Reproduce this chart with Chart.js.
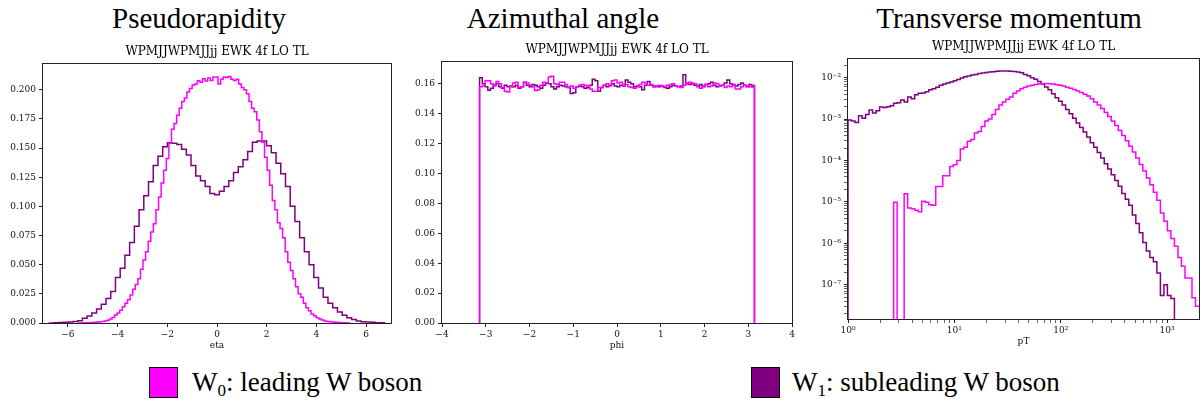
<!DOCTYPE html>
<html>
<head>
<meta charset="utf-8">
<script src="https://cdn.jsdelivr.net/npm/chart.js@4.4.1/dist/chart.umd.min.js"></script>
<style>
  body { margin: 0; width: 1200px; height: 405px; background: #fff; position: relative; overflow: hidden; }
  canvas { position: absolute; }
  .big { position: absolute; top: 4px; font-family: 'Liberation Serif', serif; font-size: 29px; line-height: 29px;
         transform: translateX(-50%); white-space: nowrap; color: #000; }
  .leg { position: absolute; top: 369px; font-family: 'Liberation Serif', serif; font-size: 27px; line-height: 27px;
         white-space: nowrap; color: #000; }
  .leg sub { font-size: 17px; vertical-align: -5px; line-height: 0; }
  .box { position: absolute; top: 367px; width: 27px; height: 29px; border: 1px solid #000; }
</style>
</head>
<body>
<div class="big" style="left:199px">Pseudorapidity</div>
<div class="big" style="left:563px">Azimuthal angle</div>
<div class="big" style="left:1009px">Transverse momentum</div>

<canvas id="c-eta" width="400" height="316" style="left:0;top:40px"></canvas>
<canvas id="c-phi" width="400" height="318" style="left:400px;top:38px"></canvas>
<canvas id="c-pt" width="400" height="317" style="left:800px;top:35px"></canvas>

<div class="box" style="left:149px;background:#ff00ff"></div>
<div class="leg" style="left:192px">W<sub>0</sub>: leading W boson</div>
<div class="box" style="left:751px;background:#800080"></div>
<div class="leg" style="left:792px">W<sub>1</sub>: subleading W boson</div>

<script>
// ---- datos: pseudorapidez (eta) ----
const etaTicks = [-6, -4, -2, 0, 2, 4, 6];
const etaLeadStart = -5.576;   // primer borde de bin, W0
const etaLeadWidth = 0.104;
const etaLead = [
    0.0001, 0.0001, 0.0002, 0.0002, 0.0003, 0.0004, 0.0006, 0.0008, 0.0010, 0.0013,
    0.0017, 0.0024, 0.0035, 0.0048, 0.0068, 0.0085, 0.011, 0.014, 0.017, 0.020,
    0.024, 0.029, 0.033, 0.038, 0.046, 0.054, 0.061, 0.070, 0.078, 0.085,
    0.097, 0.108, 0.120, 0.131, 0.141, 0.154, 0.166, 0.171, 0.178, 0.184,
    0.190, 0.193, 0.198, 0.201, 0.204, 0.205, 0.2077, 0.2065, 0.2094, 0.2074,
    0.210, 0.208, 0.211, 0.211, 0.205, 0.209, 0.211, 0.2105, 0.2114, 0.209,
    0.208, 0.209, 0.205, 0.202, 0.200, 0.1966, 0.190, 0.184, 0.181, 0.174,
    0.164, 0.155, 0.142, 0.131, 0.118, 0.105, 0.097, 0.086, 0.081, 0.073,
    0.061, 0.052, 0.045, 0.038, 0.031, 0.025, 0.022, 0.017, 0.013, 0.0105,
    0.0078, 0.0062, 0.0046, 0.0034, 0.0025, 0.0017, 0.0013, 0.0010, 0.0008, 0.0006,
    0.0005, 0.0004, 0.0003, 0.0002, 0.0001
];
const etaSubStart = -6.745;    // primer borde de bin, W1
const etaSubWidth = 0.19;
const etaSub = [
    0.0001, 0.0002, 0.0004, 0.0006, 0.0009, 0.0013, 0.002, 0.004, 0.006, 0.0086,
    0.012, 0.016, 0.021, 0.027, 0.039, 0.047, 0.058, 0.069, 0.083, 0.097,
    0.109, 0.121, 0.135, 0.143, 0.151, 0.1546, 0.154, 0.153, 0.149, 0.144,
    0.135, 0.126, 0.122, 0.117, 0.111, 0.110, 0.113, 0.117, 0.122, 0.129,
    0.134, 0.140, 0.147, 0.155, 0.156, 0.156, 0.152, 0.146, 0.137, 0.128,
    0.117, 0.100, 0.087, 0.073, 0.061, 0.050, 0.039, 0.030, 0.022, 0.017,
    0.013, 0.0094, 0.0066, 0.0046, 0.0029, 0.0017, 0.0011, 0.0009, 0.0006, 0.0003,
    0.0002
];

// ---- datos: angulo azimutal (phi), 100 bins entre -pi y pi ----
const phiTicks = [-4, -3, -2, -1, 0, 1, 2, 3, 4];
const phiBins = 100;
const phiLead = [
    0.158, 0.1585, 0.162, 0.162, 0.160, 0.1585, 0.1615, 0.160, 0.1575, 0.155,
    0.1545, 0.158, 0.1605, 0.161, 0.1575, 0.158, 0.161, 0.1605, 0.159, 0.158,
    0.1555, 0.156, 0.159, 0.161, 0.1605, 0.1645, 0.165, 0.160, 0.1595, 0.161,
    0.161, 0.1595, 0.1575, 0.1585, 0.157, 0.158, 0.159, 0.1595, 0.159, 0.1585,
    0.1565, 0.155, 0.155, 0.1575, 0.1575, 0.159, 0.160, 0.1585, 0.162, 0.1625,
    0.1605, 0.161, 0.159, 0.1595, 0.158, 0.1575, 0.157, 0.158, 0.1595, 0.161,
    0.1605, 0.159, 0.1595, 0.1585, 0.158, 0.159, 0.1585, 0.158, 0.159, 0.1595,
    0.160, 0.1585, 0.158, 0.1575, 0.159, 0.1605, 0.161, 0.1605, 0.160, 0.158,
    0.157, 0.1585, 0.1595, 0.158, 0.1585, 0.1605, 0.160, 0.1585, 0.159, 0.1575,
    0.1585, 0.158, 0.1595, 0.1565, 0.1565, 0.158, 0.159, 0.1585, 0.158, 0.159
];
const phiSub = [
    0.164, 0.160, 0.158, 0.1557, 0.157, 0.159, 0.160, 0.158, 0.157, 0.159,
    0.158, 0.1585, 0.158, 0.159, 0.157, 0.158, 0.161, 0.159, 0.158, 0.1595,
    0.159, 0.158, 0.157, 0.159, 0.1605, 0.160, 0.158, 0.1565, 0.158, 0.159,
    0.1585, 0.158, 0.1575, 0.1535, 0.154, 0.158, 0.1585, 0.158, 0.157, 0.1575,
    0.159, 0.163, 0.162, 0.155, 0.1575, 0.159, 0.158, 0.159, 0.160, 0.1585,
    0.158, 0.159, 0.1585, 0.1625, 0.161, 0.160, 0.158, 0.1585, 0.158, 0.156,
    0.159, 0.1615, 0.159, 0.158, 0.1585, 0.158, 0.1585, 0.1575, 0.157, 0.158,
    0.159, 0.1585, 0.158, 0.1585, 0.166, 0.160, 0.1595, 0.160, 0.159, 0.1585,
    0.1595, 0.158, 0.1595, 0.160, 0.161, 0.159, 0.158, 0.1585, 0.159, 0.1605,
    0.1625, 0.160, 0.159, 0.1585, 0.1595, 0.1605, 0.159, 0.158, 0.1595, 0.158
];

// ---- datos: momento transverso (pT), bins logaritmicos de 0.033 decadas desde 1 ----
const ptLogStep = 0.033;
const ptLead = [
    0, 0, 0, 0, 0, 0, 0, 0, 0, 0,
    0, 0, 0, 9.8e-6, 0, 0, 1.58e-5, 7.1e-6, 6.8e-6, 6.3e-6,
    5.8e-6, 1.03e-5, 9.8e-6, 8.5e-6, 8.3e-6, 2.36e-5, 2.36e-5, 4.3e-5, 4.3e-5, 7.2e-5,
    7.9e-5, 1.0e-4, 1.9e-4, 2.1e-4, 2.9e-4, 3.2e-4, 4.6e-4, 5.0e-4, 6.6e-4, 9.0e-4,
    1.0e-3, 1.3e-3, 1.7e-3, 2.2e-3, 2.6e-3, 3.0e-3, 3.4e-3, 4.2e-3, 4.8e-3, 5.4e-3,
    5.9e-3, 6.3e-3, 6.6e-3, 6.9e-3, 7.1e-3, 7.1e-3, 7.2e-3, 7.1e-3, 7.0e-3, 6.8e-3,
    6.6e-3, 6.3e-3, 5.9e-3, 5.6e-3, 5.2e-3, 4.8e-3, 4.4e-3, 4.0e-3, 3.6e-3, 3.1e-3,
    2.6e-3, 2.2e-3, 1.8e-3, 1.45e-3, 1.15e-3, 9.0e-4, 7.0e-4, 5.3e-4, 4.0e-4, 3.0e-4,
    2.2e-4, 1.6e-4, 1.15e-4, 8.0e-5, 5.6e-5, 3.8e-5, 2.6e-5, 1.7e-5, 1.1e-5, 5.4e-6,
    3.4e-6, 2.0e-6, 1.3e-6, 8.5e-7, 4.5e-7, 2.8e-7, 1.45e-7, 1.45e-7, 4.8e-8, 3.0e-8
];
const ptSub = [
    9.5e-4, 9.0e-4, 8.3e-4, 1.2e-3, 1.05e-3, 1.3e-3, 1.65e-3, 1.4e-3, 1.6e-3, 1.95e-3,
    1.9e-3, 2.0e-3, 2.1e-3, 2.4e-3, 2.5e-3, 2.9e-3, 2.6e-3, 3.4e-3, 3.1e-3, 3.9e-3,
    4.2e-3, 4.3e-3, 4.6e-3, 5.1e-3, 5.4e-3, 5.9e-3, 6.6e-3, 7.0e-3, 7.5e-3, 7.9e-3,
    8.4e-3, 9.1e-3, 9.8e-3, 1.05e-2, 1.1e-2, 1.16e-2, 1.2e-2, 1.26e-2, 1.3e-2, 1.33e-2,
    1.37e-2, 1.4e-2, 1.43e-2, 1.45e-2, 1.46e-2, 1.46e-2, 1.44e-2, 1.42e-2, 1.38e-2, 1.31e-2,
    1.2e-2, 1.11e-2, 1.0e-2, 9.2e-3, 8.1e-3, 7.0e-3, 6.0e-3, 5.1e-3, 4.1e-3, 3.3e-3,
    2.7e-3, 2.2e-3, 1.7e-3, 1.35e-3, 1.05e-3, 8.0e-4, 6.3e-4, 4.9e-4, 3.7e-4, 2.7e-4,
    2.1e-4, 1.55e-4, 1.15e-4, 8.3e-5, 6.2e-5, 4.5e-5, 3.3e-5, 2.4e-5, 1.6e-5, 1.15e-5,
    8.3e-6, 4.8e-6, 3.0e-6, 1.8e-6, 1.05e-6, 6.5e-7, 4.5e-7, 3.6e-7, 1.9e-7, 5.5e-8,
    1.0e-7, 5.5e-8, 4.6e-8, 0, 0, 0, 0, 0, 0, 0
];

const titulo = 'WPMJJWPMJJjj EWK 4f LO TL';
const colorW0 = '#ff00ff';
const colorW1 = '#800080';

Chart.defaults.font.family = "'DejaVu Serif', serif";
Chart.defaults.color = '#111';

/**
 * Bordes de bins uniformes
 */
function bordesLineales(inicio, ancho, n) {
    const e = [];
    for (let i = 0; i <= n; i++) e.push(inicio + i * ancho);
    return e;
}

/**
 * Puntos de un histograma tipo "step" (cae a cero en los extremos).
 * En ejes log el cero se sustituye por "piso" (queda fuera del area y se recorta).
 */
function puntosHistograma(bordes, valores, piso) {
    const cero = piso || 0;
    const y = v => (v === 0 ? cero : v);
    let a = 0, b = valores.length - 1;
    while (a < b && valores[a] === 0) a++;
    while (b > a && valores[b] === 0) b--;
    const pts = [{ x: bordes[a], y: cero }];
    for (let i = a; i <= b; i++) pts.push({ x: bordes[i], y: y(valores[i]) });
    pts.push({ x: bordes[b + 1], y: y(valores[b]) });
    pts.push({ x: bordes[b + 1], y: cero });
    return pts;
}

function serie(pts, color) {
    return {
        data: pts,
        borderColor: color,
        borderWidth: 1.5,
        pointRadius: 0,
        fill: false,
        stepped: true,
        tension: 0
    };
}

// Marco completo del area de grafico (como en matplotlib)
const marco = {
    id: 'marco',
    afterDraw(chart) {
        const { ctx, chartArea: a } = chart;
        ctx.save();
        ctx.strokeStyle = '#222';
        ctx.lineWidth = 1;
        ctx.strokeRect(Math.round(a.left) - 0.5, Math.round(a.top) - 0.5,
            Math.round(a.right - a.left) + 1, Math.round(a.bottom - a.top) + 1);
        ctx.restore();
    }
};

const menos = v => (v < 0 ? '\u2212' + Math.abs(v) : String(v));
const sup = { '-': '\u207B', '0': '\u2070', '1': '\u00B9', '2': '\u00B2', '3': '\u00B3', '4': '\u2074',
              '5': '\u2075', '6': '\u2076', '7': '\u2077', '8': '\u2078', '9': '\u2079' };
const esPotencia = v => Math.abs(Math.log10(v) - Math.round(Math.log10(v))) < 1e-6;
const potencia = v => '10' + String(Math.round(Math.log10(v))).split('').map(c => sup[c]).join('');

function ticksLog(min, max) {
    const t = [];
    for (let e = Math.floor(Math.log10(min)); e <= Math.ceil(Math.log10(max)); e++) {
        for (let m = 1; m <= 9; m++) {
            const v = m * Math.pow(10, e);
            if (v >= min && v <= max) t.push({ value: v, major: m === 1 });
        }
    }
    return t;
}

const fuenteTick = { size: 9 };
const rejilla = { drawOnChartArea: false, drawTicks: true, tickLength: 4, tickColor: '#222' };

function ejeX(cfg) {
    return Object.assign({
        type: 'linear',
        border: { display: false },
        grid: rejilla,
        afterFit: s => { s.height = 33; }
    }, cfg);
}

function ejeY(ancho, cfg) {
    return Object.assign({
        type: 'linear',
        border: { display: false },
        grid: rejilla,
        afterFit: s => { s.width = ancho; }
    }, cfg);
}

function tituloEje(texto) {
    return { display: true, text: texto, font: { size: 9 }, padding: { top: 0, bottom: 5 } };
}

function opciones(scales, derecha) {
    return {
        responsive: false,
        animation: false,
        events: [],
        layout: { padding: { left: 0, top: 0, right: derecha, bottom: 0 } },
        plugins: {
            legend: { display: false },
            tooltip: { enabled: false },
            title: {
                display: true,
                fullSize: false,
                text: titulo,
                color: '#000',
                font: { size: 12, weight: 'normal' },
                padding: { top: 5, bottom: 5 }
            }
        },
        scales: scales
    };
}

// ---- Grafico 1: eta ----
new Chart(document.getElementById('c-eta'), {
    type: 'line',
    data: {
        datasets: [
            serie(puntosHistograma(bordesLineales(etaLeadStart, etaLeadWidth, etaLead.length), etaLead), colorW0),
            serie(puntosHistograma(bordesLineales(etaSubStart, etaSubWidth, etaSub.length), etaSub), colorW1)
        ]
    },
    options: opciones({
        x: ejeX({ min: -7, max: 7,
            afterBuildTicks: s => { s.ticks = etaTicks.map(v => ({ value: v })); },
            ticks: { font: fuenteTick, padding: 2, maxRotation: 0, autoSkip: false, callback: v => menos(v) },
            title: tituloEje('eta') }),
        y: ejeY(43, { min: 0, max: 0.2217,
            ticks: { font: fuenteTick, padding: 3, autoSkip: false, includeBounds: false,
                     stepSize: 0.025, callback: v => v.toFixed(3) } })
    }, 9),
    plugins: [marco]
});

// ---- Grafico 2: phi ----
new Chart(document.getElementById('c-phi'), {
    type: 'line',
    data: {
        datasets: [
            serie(puntosHistograma(bordesLineales(-Math.PI, 2 * Math.PI / phiBins, phiBins), phiLead), colorW0),
            serie(puntosHistograma(bordesLineales(-Math.PI, 2 * Math.PI / phiBins, phiBins), phiSub), colorW1)
        ]
    },
    options: opciones({
        x: ejeX({ min: -4, max: 4,
            afterBuildTicks: s => { s.ticks = phiTicks.map(v => ({ value: v })); },
            ticks: { font: fuenteTick, padding: 2, maxRotation: 0, autoSkip: false, callback: v => menos(v) },
            title: tituloEje('phi') }),
        y: ejeY(42, { min: 0, max: 0.1743,
            ticks: { font: fuenteTick, padding: 3, autoSkip: false, includeBounds: false,
                     stepSize: 0.02, callback: v => v.toFixed(2) } })
    }, 8),
    plugins: [marco]
});

// ---- Grafico 3: pT (log-log) ----
const ptBordes = [];
for (let k = 0; k <= ptLead.length; k++) ptBordes.push(Math.pow(10, ptLogStep * k));
const ptXmin = 1, ptXmax = 1995, ptYmin = 1.48e-8, ptYmax = 0.0277;
const ptPiso = ptYmin / 100;
const rejillaLog = Object.assign({}, rejilla, { tickWidth: c => (c.tick && c.tick.major ? 1 : 0.7) });

new Chart(document.getElementById('c-pt'), {
    type: 'line',
    data: {
        datasets: [
            serie(puntosHistograma(ptBordes, ptLead, ptPiso), colorW0),
            serie(puntosHistograma(ptBordes, ptSub, ptPiso), colorW1)
        ]
    },
    options: opciones({
        x: ejeX({ type: 'logarithmic', min: ptXmin, max: ptXmax,
            afterBuildTicks: s => { s.ticks = ticksLog(ptXmin, ptXmax); },
            grid: rejillaLog,
            ticks: { font: fuenteTick, padding: 2, maxRotation: 0, autoSkip: false,
                     callback: v => (esPotencia(v) ? potencia(v) : '') },
            title: tituloEje('pT') }),
        y: ejeY(48, { type: 'logarithmic', min: ptYmin, max: ptYmax,
            afterBuildTicks: s => { s.ticks = ticksLog(ptYmin, ptYmax); },
            grid: rejillaLog,
            ticks: { font: fuenteTick, padding: 3, autoSkip: false,
                     callback: v => (esPotencia(v) ? potencia(v) : '') } })
    }, 1),
    plugins: [marco]
});
</script>
</body>
</html>
